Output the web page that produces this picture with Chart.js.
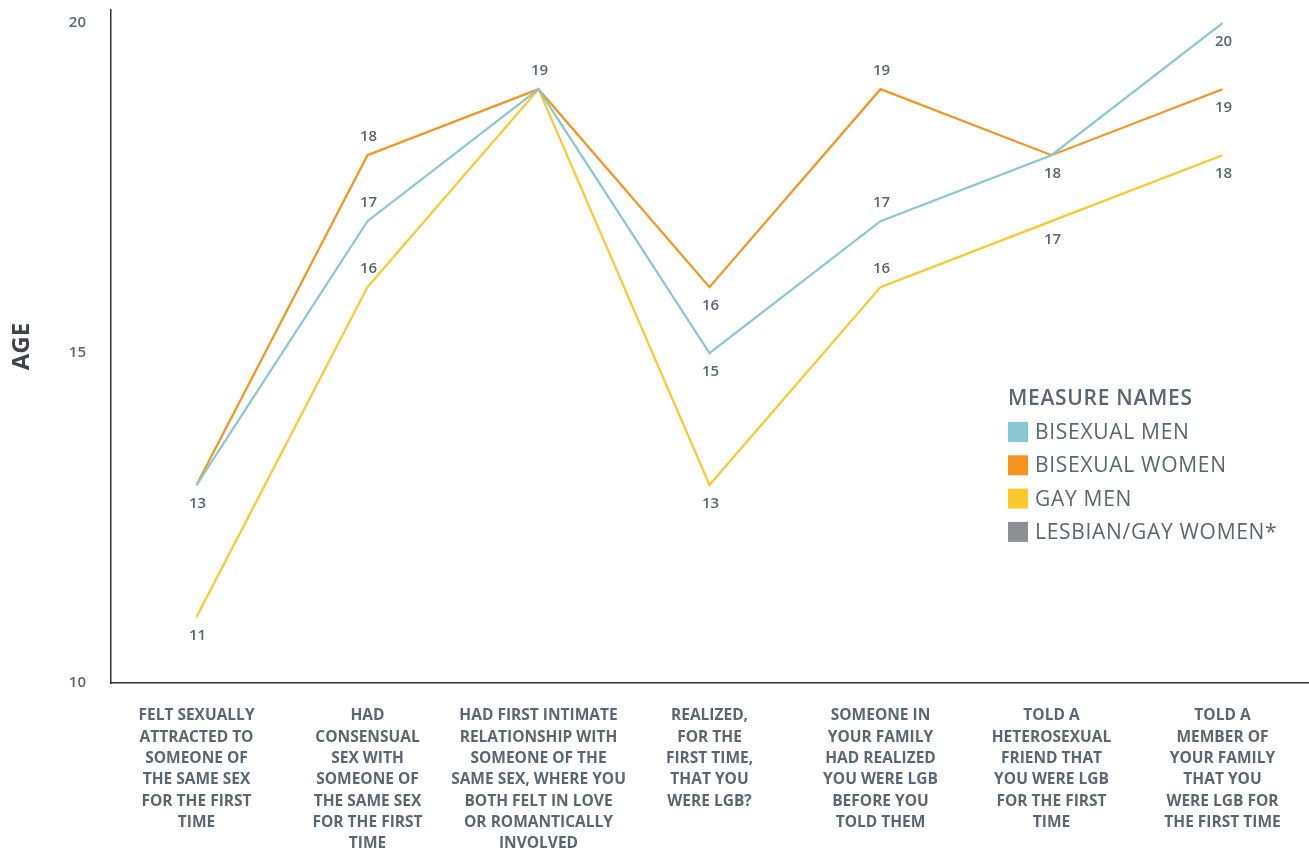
<!DOCTYPE html>
<html>
<head>
<meta charset="utf-8">
<script src="https://cdn.jsdelivr.net/npm/chart.js@4"></script>
<style>
  html, body { margin: 0; padding: 0; background: #fff; }
  #wrap { width: 1309px; height: 851px; }
</style>
</head>
<body>
<div id="wrap"><canvas id="line-chart"></canvas></div>
<script>
const categories = [
    ['FELT SEXUALLY', 'ATTRACTED TO', 'SOMEONE OF', 'THE SAME SEX', 'FOR THE FIRST', 'TIME'],
    ['HAD', 'CONSENSUAL', 'SEX WITH', 'SOMEONE OF', 'THE SAME SEX', 'FOR THE FIRST', 'TIME'],
    ['HAD FIRST INTIMATE', 'RELATIONSHIP WITH', 'SOMEONE OF THE', 'SAME SEX, WHERE YOU', 'BOTH FELT IN LOVE', 'OR ROMANTICALLY', 'INVOLVED'],
    ['REALIZED,', 'FOR THE', 'FIRST TIME,', 'THAT YOU', 'WERE LGB?'],
    ['SOMEONE IN', 'YOUR FAMILY', 'HAD REALIZED', 'YOU WERE LGB', 'BEFORE YOU', 'TOLD THEM'],
    ['TOLD A', 'HETEROSEXUAL', 'FRIEND THAT', 'YOU WERE LGB', 'FOR THE FIRST', 'TIME'],
    ['TOLD A', 'MEMBER OF', 'YOUR FAMILY', 'THAT YOU', 'WERE LGB FOR', 'THE FIRST TIME']
];
const bisexualMen = [13, 17, 19, 15, 17, 18, 20];
const bisexualWomen = [13, 18, 19, 16, 19, 18, 19];
const gayMen = [11, 16, 19, 13, 16, 17, 18];
const lesbianGayWomen = [null, null, null, null, null, null, null];
const yTicks = [10, 15, 20];

// label above or below the points of each category
const labelSide = ['below', 'above', 'above', 'below', 'above', 'below', 'below'];

const textColor = '#5b6770';
const fontFamily = '"Open Sans", "Noto Sans", sans-serif';

const pointLabels = {
    id: 'pointLabels',
    afterDatasetsDraw(chart) {
        const ctx = chart.ctx;
        const y = chart.scales.y;
        const x = chart.scales.x;
        ctx.save();
        ctx.font = '600 15px ' + fontFamily;
        ctx.fillStyle = textColor;
        ctx.textAlign = 'center';
        ctx.textBaseline = 'middle';
        categories.forEach((c, i) => {
            const seen = [];
            chart.data.datasets.forEach(ds => {
                const v = ds.data[i];
                if (v == null || seen.includes(v)) return;
                seen.push(v);
                const off = labelSide[i] === 'above' ? -18 : 19;
                ctx.fillText(String(v), x.getPixelForValue(i) + 1, y.getPixelForValue(v) + off);
            });
        });
        ctx.restore();
    }
};

const sideLegend = {
    id: 'sideLegend',
    afterDraw(chart) {
        const ctx = chart.ctx;
        const left = 1008;
        ctx.save();
        ctx.letterSpacing = '0.7px';
        ctx.textBaseline = 'middle';
        ctx.textAlign = 'left';
        ctx.fillStyle = textColor;
        ctx.font = '600 21px ' + fontFamily;
        ctx.fillText('MEASURE NAMES', left, 399);
        ctx.font = '21px ' + fontFamily;
        chart.data.datasets.forEach((ds, i) => {
            const cy = 432 + i * 33.3;
            ctx.fillStyle = ds.borderColor;
            ctx.fillRect(left, cy - 10, 20, 20);
            ctx.fillStyle = textColor;
            ctx.fillText(ds.label, left + 27, cy + 1);
        });
        ctx.restore();
    }
};

const ctx = document.getElementById('line-chart');

new Chart(ctx, {
    type: 'line',
    plugins: [pointLabels, sideLegend],
    data: {
        labels: categories,
        datasets: [{
            label: 'BISEXUAL MEN',
            data: bisexualMen,
            borderColor: '#89c7d3'
        },
        {
            label: 'BISEXUAL WOMEN',
            data: bisexualWomen,
            borderColor: '#f7941d'
        },
        {
            label: 'GAY MEN',
            data: gayMen,
            borderColor: '#fdc82a'
        },
        {
            label: 'LESBIAN/GAY WOMEN*',
            data: lesbianGayWomen,
            borderColor: '#8e8f94'
        }]
    },
    options: {
        responsive: true,
        maintainAspectRatio: false,
        animation: false,
        layout: { padding: { top: 10, right: 1, left: 0, bottom: 0 } },
        elements: {
            line: { borderWidth: 2.2, tension: 0 },
            point: { radius: 0, hoverRadius: 0 }
        },
        plugins: {
            legend: { display: false },
            tooltip: { enabled: false }
        },
        scales: {
            x: {
                offset: true,
                grid: { display: false, drawTicks: false },
                border: { display: true, color: '#333', width: 1.5 },
                ticks: {
                    maxRotation: 0,
                    autoSkip: false,
                    padding: 22,
                    color: textColor,
                    font: { family: fontFamily, size: 15.5, weight: 'bold', lineHeight: 1.38 }
                },
                afterFit(s) { s.height = 168; s.paddingLeft = 0; s.paddingRight = 0; }
            },
            y: {
                min: 10,
                max: 20.2,
                grid: { display: false, drawTicks: false },
                border: { display: true, color: '#333', width: 1.5 },
                afterBuildTicks(s) { s.ticks = yTicks.map(v => ({ value: v })); },
                ticks: {
                    padding: 25,
                    color: textColor,
                    font: { family: fontFamily, size: 15, weight: 600 }
                },
                title: {
                    display: true,
                    text: 'AGE',
                    color: '#3e4449',
                    padding: { top: 8, bottom: 0 },
                    font: { family: fontFamily, size: 24, weight: 'bold' }
                },
                afterFit(s) { s.width = 111; s.paddingTop = 0; s.paddingBottom = 0; }
            }
        }
    }
});
</script>
</body>
</html>
